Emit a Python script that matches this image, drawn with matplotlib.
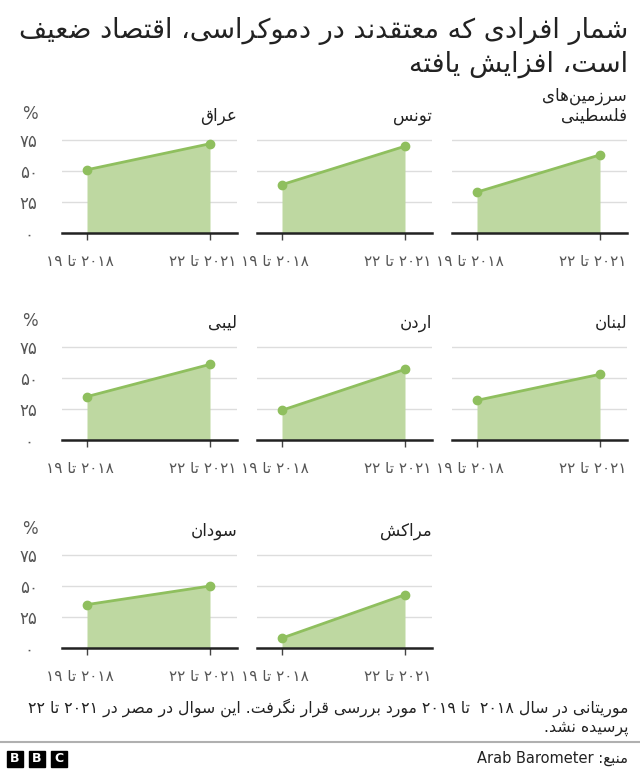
import re
import matplotlib
matplotlib.use('Agg')
import matplotlib.pyplot as plt
from matplotlib.patches import Rectangle
from matplotlib.transforms import ScaledTranslation

plt.rcParams['font.family'] = ['DejaVu Sans']

# داده‌ها
panel_names = ['سرزمین‌های\nفلسطینی', 'تونس', 'عراق', 'لبنان', 'اردن', 'لیبی', 'مراکش', 'سودان']
values_2018 = [33, 39, 51, 32, 24, 35, 8, 35]
values_2021 = [63, 70, 72, 53, 57, 61, 43, 50]
period_labels = ['۲۰۱۸ تا ۱۹', '۲۰۲۱ تا ۲۲']
y_ticks = [0, 25, 50, 75]
y_tick_labels = ['۰', '۲۵', '۵۰', '۷۵']

title_text = 'شمار افرادی که معتقدند در دموکراسی، اقتصاد ضعیف\nاست، افزایش یافته'
note_line1 = 'موریتانی در سال ۲۰۱۸  تا ۲۰۱۹ مورد بررسی قرار نگرفت. این سوال در مصر در ۲۰۲۱ تا ۲۲'
note_line2 = 'پرسیده نشد.'
source_text = 'منبع: Arab Barometer'

# جای هر نمودار کوچک (ردیف، ستون)
panel_cells = [(0, 2), (0, 1), (0, 0), (1, 2), (1, 1), (1, 0), (2, 1), (2, 0)]


# شکل‌دهی ساده‌ی حروف فارسی (matplotlib خودش این کار را نمی‌کند)
def _dual(base):
    return tuple(chr(base + i) for i in range(4))


def _right(base):
    return (chr(base), chr(base + 1))


FORMS = {
    'ا': _right(0xFE8D), 'آ': _right(0xFE81), 'أ': _right(0xFE83), 'إ': _right(0xFE87),
    'ؤ': _right(0xFE85), 'ة': _right(0xFE93), 'د': _right(0xFEA9), 'ذ': _right(0xFEAB),
    'ر': _right(0xFEAD), 'ز': _right(0xFEAF), 'ژ': _right(0xFB8A), 'و': _right(0xFEED),
    'ب': _dual(0xFE8F), 'ت': _dual(0xFE95), 'ث': _dual(0xFE99), 'ج': _dual(0xFE9D),
    'ح': _dual(0xFEA1), 'خ': _dual(0xFEA5), 'س': _dual(0xFEB1), 'ش': _dual(0xFEB5),
    'ص': _dual(0xFEB9), 'ض': _dual(0xFEBD), 'ط': _dual(0xFEC1), 'ظ': _dual(0xFEC5),
    'ع': _dual(0xFEC9), 'غ': _dual(0xFECD), 'ف': _dual(0xFED1), 'ق': _dual(0xFED5),
    'ك': _dual(0xFED9), 'ل': _dual(0xFEDD), 'م': _dual(0xFEE1), 'ن': _dual(0xFEE5),
    'ه': _dual(0xFEE9), 'ي': _dual(0xFEF1), 'ئ': _dual(0xFE89),
    'پ': _dual(0xFB56), 'چ': _dual(0xFB7A), 'ک': _dual(0xFB8E), 'گ': _dual(0xFB92),
    'ی': _dual(0xFBFC),
}
LAM_ALEF = {'ا': ('\uFEFB', '\uFEFC'), 'آ': ('\uFEF5', '\uFEF6'),
            'أ': ('\uFEF7', '\uFEF8'), 'إ': ('\uFEF9', '\uFEFA')}


def joins_left(c):
    return c in FORMS and len(FORMS[c]) == 4


def shape(text):
    out = []
    i = 0
    n = len(text)
    while i < n:
        c = text[i]
        if c not in FORMS:
            if c != '\u200c':
                out.append(c)
            i += 1
            continue
        prev = text[i - 1] if i > 0 else ''
        con_prev = joins_left(prev)
        if c == 'ل' and i + 1 < n and text[i + 1] in LAM_ALEF:
            out.append(LAM_ALEF[text[i + 1]][1 if con_prev else 0])
            i += 2
            continue
        nxt = text[i + 1] if i + 1 < n else ''
        con_next = joins_left(c) and nxt in FORMS
        f = FORMS[c]
        if con_prev and con_next:
            out.append(f[3])
        elif con_prev:
            out.append(f[1])
        elif con_next:
            out.append(f[2])
        else:
            out.append(f[0])
        i += 1
    return ''.join(out)


def rtl(text):
    lines = []
    for line in text.split('\n'):
        s = shape(line)[::-1]
        s = re.sub(r'[A-Za-z0-9۰-۹]+(?: [A-Za-z]+)*', lambda m: m.group(0)[::-1], s)
        lines.append(s)
    return '\n'.join(lines)


W, H = 640, 772
fig = plt.figure(figsize=(W / 100, H / 100), dpi=100)
fig.patch.set_facecolor('white')

fill_color = '#bed8a1'
line_color = '#8fbf5e'
text_color = '#222222'
tick_color = '#555555'


def fx(x):
    return x / W


def fy(y):
    return 1 - y / H


# عنوان
fig.text(fx(628), fy(17), rtl(title_text), ha='right', va='top', fontsize=19.5,
         color=text_color, multialignment='right', linespacing=1.25)

row_base = [233, 440, 648]
col_left = [62, 257, 452]
ax_w = 175
px_per_unit = 1.24
ymax = 80
ax_h = ymax * px_per_unit

for k, name in enumerate(panel_names):
    r, c = panel_cells[k]
    base = row_base[r]
    left = col_left[c]
    ax = fig.add_axes([fx(left), fy(base), fx(ax_w), ax_h / H])
    xs = [0, 1]
    ys = [values_2018[k], values_2021[k]]
    ax.fill_between(xs, 0, ys, color=fill_color, lw=0, zorder=2)
    ax.plot(xs, ys, color=line_color, lw=2, marker='o', markersize=6, zorder=3, clip_on=False)
    ax.set_xlim(-25 / 123, 1 + 27 / 123)
    ax.set_ylim(0, ymax)
    for spine in ['top', 'right', 'left']:
        ax.spines[spine].set_visible(False)
    ax.spines['bottom'].set_color('#222222')
    ax.spines['bottom'].set_linewidth(1.8)
    ax.spines['bottom'].set_zorder(4)
    ax.set_yticks(y_ticks)
    ax.yaxis.grid(True, color='#dddddd', lw=1)
    ax.set_axisbelow(True)
    ax.tick_params(axis='y', length=0)
    if c == 0:
        ax.set_yticklabels(y_tick_labels, fontsize=12, color=tick_color)
        for lab in ax.get_yticklabels():
            lab.set_horizontalalignment('center')
        ax.tick_params(axis='y', pad=24)
        ax.text(-32 / ax_w, 75 + 26 / px_per_unit, '%', transform=ax.get_yaxis_transform(),
                fontsize=12, color=tick_color, ha='center', va='center')
    else:
        ax.set_yticklabels([])
    ax.set_xticks(xs)
    ax.set_xticklabels([rtl(p) for p in period_labels], fontsize=11, color=tick_color)
    ax.tick_params(axis='x', length=5, width=1, color='#444444', pad=10)
    for lab in ax.get_xticklabels():
        lab.set_transform(lab.get_transform() + ScaledTranslation(-7 / 100, 0, fig.dpi_scale_trans))
    # عنوان هر نمودار
    ax.text(1, 75 + 19 / px_per_unit, rtl(name), transform=ax.get_yaxis_transform(),
            ha='right', va='baseline', fontsize=12, color=text_color,
            multialignment='right', linespacing=1.15)

# پانویس
fig.text(fx(628), fy(708), rtl(note_line1), ha='right', va='center', fontsize=11.3, color=text_color)
fig.text(fx(628), fy(728), rtl(note_line2), ha='right', va='center', fontsize=11.3, color=text_color)
fig.add_artist(plt.Line2D([0, 1], [fy(742), fy(742)], color='#b0b0b0', lw=1.5,
                          transform=fig.transFigure))
fig.text(fx(628), fy(758), rtl(source_text), ha='right', va='center', fontsize=10.5, color=text_color)

for i, letter in enumerate('BBC'):
    x0 = 7 + 22 * i
    fig.add_artist(Rectangle((fx(x0), fy(767)), fx(16), 16 / H, color='black',
                             transform=fig.transFigure))
    fig.text(fx(x0 + 8), fy(759), letter, color='white', fontsize=9, fontweight='bold',
             ha='center', va='center')

fig.savefig('out.png', dpi=100)
